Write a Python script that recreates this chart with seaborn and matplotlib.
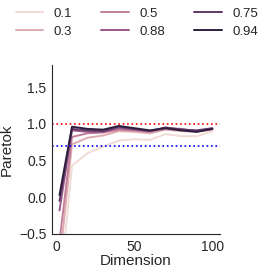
import pandas as pd
import numpy as np
import seaborn as sns
import matplotlib
matplotlib.use("Agg")
import matplotlib.pyplot as plt

# Datos
dims = [2, 10, 20, 30, 40, 50, 60, 70, 80, 90, 100]
p_01 = [-1.30, 0.43, 0.60, 0.69, 0.77, 0.79, 0.78, 0.86, 0.83, 0.83, 0.90]
p_03 = [-0.90, 0.72, 0.81, 0.84, 0.90, 0.89, 0.87, 0.92, 0.90, 0.89, 0.92]
p_05 = [-0.60, 0.82, 0.87, 0.88, 0.92, 0.91, 0.89, 0.93, 0.91, 0.90, 0.93]
p_088 = [-0.18, 0.91, 0.89, 0.89, 0.94, 0.92, 0.90, 0.94, 0.93, 0.90, 0.93]
p_075 = [-0.05, 0.93, 0.91, 0.90, 0.96, 0.93, 0.90, 0.95, 0.92, 0.91, 0.94]
p_094 = [0.03, 0.96, 0.93, 0.92, 0.97, 0.94, 0.91, 0.94, 0.91, 0.89, 0.93]

series = {'0.1': p_01, '0.3': p_03, '0.5': p_05, '0.88': p_088, '0.75': p_075, '0.94': p_094}
hue_order = list(series.keys())

rows = []
for k, vals in series.items():
    for d, v in zip(dims, vals):
        rows.append({'Dimension': d, 'Paretok': v, 'p': k})
df = pd.DataFrame(rows)

sns.set_style('white')
plt.rcParams['font.family'] = ['Liberation Sans', 'DejaVu Sans']
fig = plt.figure(figsize=(2.66, 2.73), dpi=100)
ax = fig.add_axes([0.195, 0.143, 0.632, 0.619])

paleta = sns.cubehelix_palette(6, light=0.88)
sns.lineplot(data=df, x='Dimension', y='Paretok', hue='p', hue_order=hue_order,
             palette=paleta, linewidth=1.4, ax=ax)
ax.axhline(1.0, color='red', linestyle=':', linewidth=1.2)
ax.axhline(0.7, color='blue', linestyle=':', linewidth=1.2)
ax.set_ylim(-0.5, 1.8)
ax.set_yticks([-0.5, 0.0, 0.5, 1.0, 1.5])
ax.set_xticks([0, 50, 100])
ax.tick_params(labelsize=10, length=0, pad=4)
ax.set_xlabel('Dimension', fontsize=11, labelpad=0)
ax.set_ylabel('Paretok', fontsize=11, labelpad=4)
sns.despine(ax=ax)

handles, labels = ax.get_legend_handles_labels()
ax.get_legend().remove()
fig.legend(handles, labels, loc='upper center', bbox_to_anchor=(0.515, 1.015), ncol=3,
           frameon=False, fontsize=9.5, handlelength=2.1, columnspacing=2.2,
           labelspacing=0.4)

fig.savefig('out.png', dpi=100)
